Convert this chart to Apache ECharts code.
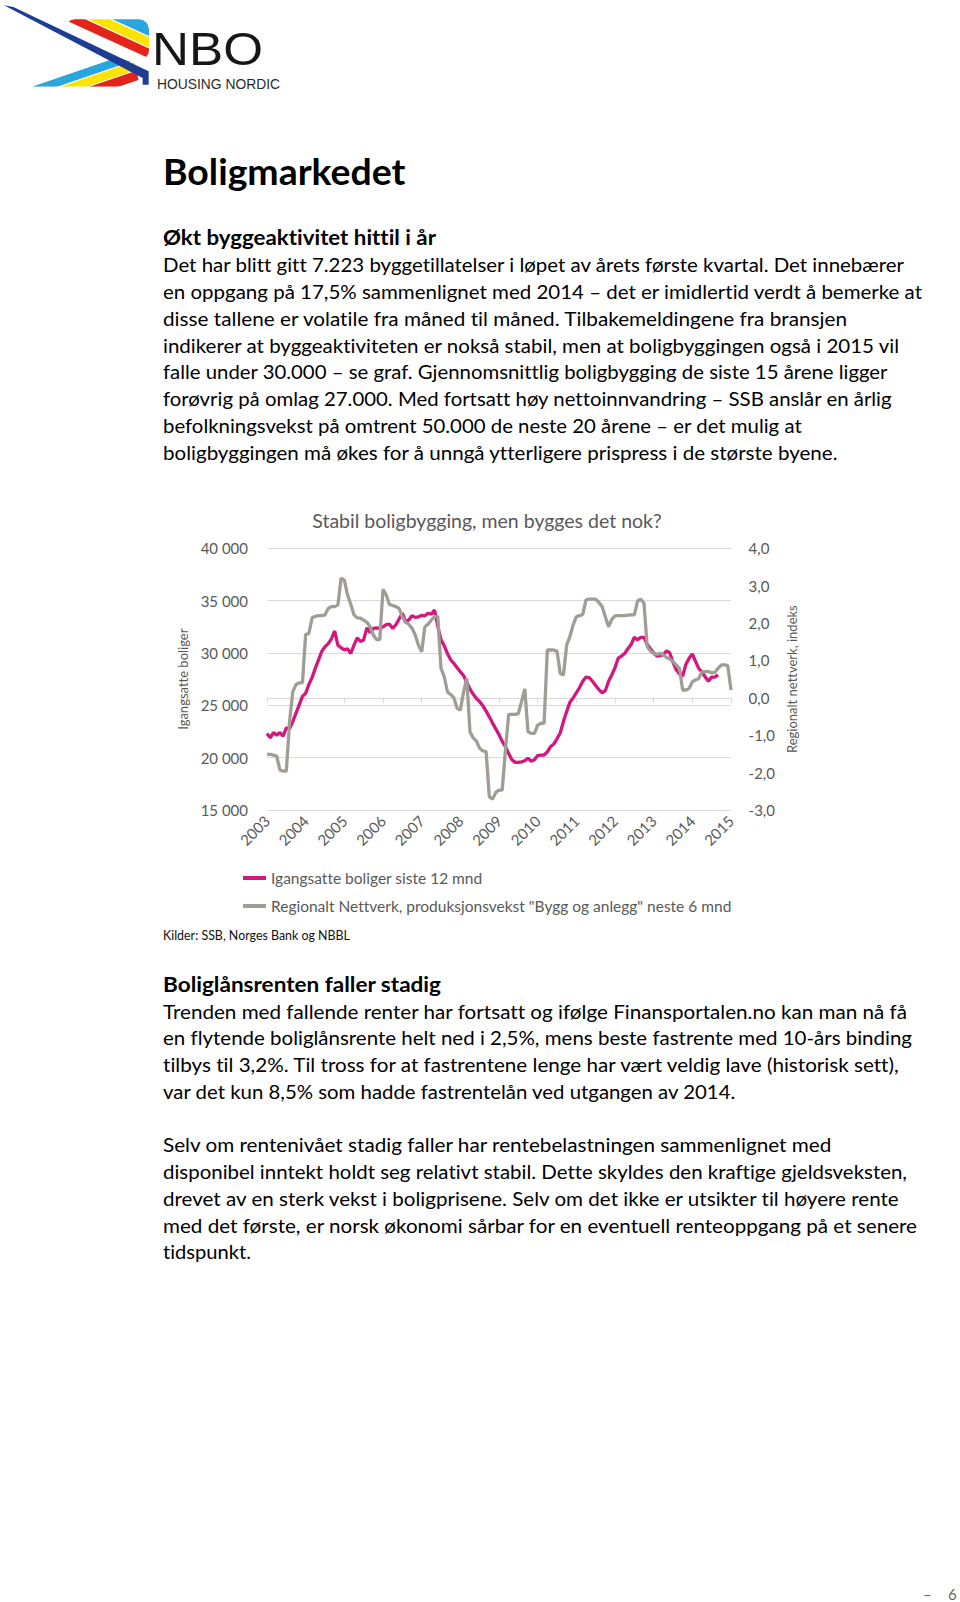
<!DOCTYPE html>
<html>
<head>
<meta charset="utf-8">
<script src="https://cdn.jsdelivr.net/npm/echarts@6/dist/echarts.min.js"></script>
<style>
  html, body { margin: 0; padding: 0; background: #fff; }
  #page { position: relative; width: 960px; height: 1602px; overflow: hidden; background: #fff; }
  #txt { position: absolute; left: 0; top: 0; }
  #chart { position: absolute; left: 160px; top: 490px; width: 654px; height: 440px; }
  text { font-family: Lato, "Open Sans", sans-serif; font-variant-ligatures: none; font-feature-settings: "liga" 0, "clig" 0, "dlig" 0; }
  #chart text { font-variant-ligatures: none; font-feature-settings: "liga" 0, "clig" 0; }
</style>
</head>
<body>
<div id="page">
<svg id="txt" width="960" height="1602" viewBox="0 0 960 1602" xmlns="http://www.w3.org/2000/svg">
  <defs>
    <clipPath id="cu"><rect x="195" y="58" width="252" height="122" rx="30"/></clipPath>
    <clipPath id="cl"><polygon points="95,260 350,172 405,190 420,260"/></clipPath>
  </defs>
  <!-- logo -->
  <g transform="scale(0.33333)">
    <g clip-path="url(#cu)">
      <line x1="-49.4" y1="-66.3" x2="700.6" y2="275.7" stroke="#e3241b" stroke-width="27"/>
      <line x1="-36.7" y1="-94" x2="713.3" y2="248" stroke="#fde300" stroke-width="27"/>
      <line x1="-21.8" y1="-126.8" x2="728.2" y2="215.2" stroke="#2aa6de" stroke-width="38"/>
    </g>
    <g clip-path="url(#cl)">
      <line x1="-126" y1="347.8" x2="564" y2="113.8" stroke="#2aa6de" stroke-width="25"/>
      <line x1="-117" y1="374.4" x2="573" y2="140.4" stroke="#fde300" stroke-width="25"/>
      <line x1="-107.5" y1="402.3" x2="582.5" y2="168.3" stroke="#e3241b" stroke-width="28"/>
    </g>
    <polygon points="12,16 40,21 446,214 446,254 428,254 428,234" fill="#1f3c94"/>
  </g>
  <text x="152" y="65" font-size="46" fill="#161616" textLength="111" lengthAdjust="spacingAndGlyphs" style="font-family:'Liberation Sans',Arial,sans-serif">NBO</text>
  <text x="157" y="89" font-size="15.5" fill="#2b2b2b" textLength="123" lengthAdjust="spacingAndGlyphs" style="font-family:'Liberation Sans',Arial,sans-serif">HOUSING NORDIC</text>

  <!-- heading & section 1 -->
  <text x="163" y="185" font-size="37" font-weight="700" fill="#000" textLength="242.5" lengthAdjust="spacingAndGlyphs">Boligmarkedet</text>
  <text x="163" y="245" font-size="21" font-weight="700" fill="#000" textLength="273" lengthAdjust="spacingAndGlyphs">Økt byggeaktivitet hittil i år</text>
  <g font-size="19.5" fill="#000">
    <text x="163" y="272.3" textLength="741" lengthAdjust="spacingAndGlyphs">Det har blitt gitt 7.223 byggetillatelser i løpet av årets første kvartal. Det innebærer</text>
    <text x="163" y="299" textLength="759" lengthAdjust="spacingAndGlyphs">en oppgang på 17,5% sammenlignet med 2014 – det er imidlertid verdt å bemerke at</text>
    <text x="163" y="325.8" textLength="684" lengthAdjust="spacingAndGlyphs">disse tallene er volatile fra måned til måned. Tilbakemeldingene fra bransjen</text>
    <text x="163" y="352.5" textLength="736" lengthAdjust="spacingAndGlyphs">indikerer at byggeaktiviteten er nokså stabil, men at boligbyggingen også i 2015 vil</text>
    <text x="163" y="379.3" textLength="724.5" lengthAdjust="spacingAndGlyphs">falle under 30.000 – se graf. Gjennomsnittlig boligbygging de siste 15 årene ligger</text>
    <text x="163" y="406" textLength="728.6" lengthAdjust="spacingAndGlyphs">forøvrig på omlag 27.000. Med fortsatt høy nettoinnvandring – SSB anslår en årlig</text>
    <text x="163" y="432.8" textLength="638.7" lengthAdjust="spacingAndGlyphs">befolkningsvekst på omtrent 50.000 de neste 20 årene – er det mulig at</text>
    <text x="163" y="459.5" textLength="674.5" lengthAdjust="spacingAndGlyphs">boligbyggingen må økes for å unngå ytterligere prispress i de største byene.</text>
  </g>

  <text x="163" y="939.5" font-size="12.5" fill="#111" textLength="187" lengthAdjust="spacingAndGlyphs">Kilder: SSB, Norges Bank og NBBL</text>

  <!-- section 2 -->
  <text x="163" y="991.5" font-size="21" font-weight="700" fill="#000" textLength="278" lengthAdjust="spacingAndGlyphs">Boliglånsrenten faller stadig</text>
  <g font-size="19.5" fill="#000">
    <text x="163" y="1018.5" textLength="744" lengthAdjust="spacingAndGlyphs">Trenden med fallende renter har fortsatt og ifølge Finansportalen.no kan man nå få</text>
    <text x="163" y="1045.25" textLength="749" lengthAdjust="spacingAndGlyphs">en flytende boliglånsrente helt ned i 2,5%, mens beste fastrente med 10-års binding</text>
    <text x="163" y="1072" textLength="735.7" lengthAdjust="spacingAndGlyphs">tilbys til 3,2%. Til tross for at fastrentene lenge har vært veldig lave (historisk sett),</text>
    <text x="163" y="1098.75" textLength="572.3" lengthAdjust="spacingAndGlyphs">var det kun 8,5% som hadde fastrentelån ved utgangen av 2014.</text>
    <text x="163" y="1152.25" textLength="668.3" lengthAdjust="spacingAndGlyphs">Selv om rentenivået stadig faller har rentebelastningen sammenlignet med</text>
    <text x="163" y="1179" textLength="744" lengthAdjust="spacingAndGlyphs">disponibel inntekt holdt seg relativt stabil. Dette skyldes den kraftige gjeldsveksten,</text>
    <text x="163" y="1205.75" textLength="735.7" lengthAdjust="spacingAndGlyphs">drevet av en sterk vekst i boligprisene. Selv om det ikke er utsikter til høyere rente</text>
    <text x="163" y="1232.5" textLength="754" lengthAdjust="spacingAndGlyphs">med det første, er norsk økonomi sårbar for en eventuell renteoppgang på et senere</text>
    <text x="163" y="1259.25" textLength="88" lengthAdjust="spacingAndGlyphs">tidspunkt.</text>
  </g>

  <!-- page number -->
  <text x="923" y="1600" font-size="15" fill="#666">–</text>
  <text x="948" y="1600" font-size="15" fill="#666">6</text>
</svg>
<div id="chart"></div>
</div>
<script>
// ---- data ----
const years = ['2003','2004','2005','2006','2007','2008','2009','2010','2011','2012','2013','2014','2015'];
const monthNames = ['01','02','03','04','05','06','07','08','09','10','11','12'];
const leftTickLabels = ['15 000','20 000','25 000','30 000','35 000','40 000'];
const rightTickLabels = ['-3,0','-2,0','-1,0','0,0','1,0','2,0','3,0','4,0'];
const seriesNames = ['Igangsatte boliger siste 12 mnd', 'Regionalt Nettverk, produksjonsvekst "Bygg og anlegg" neste 6 mnd'];

// Igangsatte boliger siste 12 mnd (monthly, Jan 2003 - Sep 2014)
const igangsatte = [
  22300,21900,22400,22150,22400,22050,22850,22750,23450,24250,
  25050,25850,26150,27000,27650,28550,29350,30150,30600,30900,
  31350,32100,30750,30500,30300,30400,29950,30750,31450,31100,
  31250,32400,31950,32350,32400,32350,32500,32700,32750,32350,
  32700,33250,33800,33000,33150,33550,33400,33450,33600,33550,
  33800,33700,34100,32550,31250,30700,29950,29350,29000,28600,
  28200,27850,27200,26550,26050,25650,25350,24950,24450,23900,
  23300,22750,22200,21550,21050,20400,19800,19550,19550,19600,
  19700,19950,19650,19800,20200,20250,20250,20550,21050,21300,
  21800,22350,23450,24400,25300,25700,26200,26700,27300,27700,
  27650,27300,26900,26500,26200,26400,27300,27900,28600,29500,
  29700,29950,30400,30800,31500,31250,31500,31500,30800,30400,
  30000,29700,29750,29850,30200,30000,29100,28400,28000,27800,
  28900,29500,29900,29200,28500,28200,27700,27300,27700,27700,
  27900
];

// Regionalt nettverk, indeks (monthly, Jan 2003 - Jan 2015)
const regionalt = [
  -1.51,-1.51,-1.53,-1.56,-1.93,-1.96,-1.96,-0.64,0.16,0.36,
  0.40,0.40,1.70,1.72,2.14,2.18,2.20,2.20,2.22,2.39,
  2.44,2.44,2.48,3.20,3.15,2.75,2.50,2.22,2.14,2.13,
  2.08,2.02,1.90,1.68,1.56,1.56,2.90,2.75,2.50,2.47,
  2.44,2.39,2.17,2.02,1.97,1.86,1.68,1.41,1.23,1.90,
  1.97,2.08,2.17,2.17,0.79,0.57,0.16,0.09,0.00,-0.28,
  -0.33,0.16,0.52,-0.91,-1.07,-1.16,-1.35,-1.42,-1.44,-2.65,
  -2.71,-2.53,-2.47,-2.47,-1.40,-0.44,-0.44,-0.44,-0.42,-0.10,
  0.24,-0.91,-0.95,-0.95,-0.73,-0.68,-0.68,1.28,1.28,1.28,
  1.25,0.65,0.61,1.41,1.64,1.95,2.17,2.20,2.23,2.62,
  2.64,2.64,2.64,2.55,2.44,2.17,1.90,2.10,2.19,2.20,
  2.20,2.20,2.21,2.22,2.22,2.59,2.64,2.53,1.37,1.25,
  1.19,1.16,1.19,1.15,1.08,1.04,0.97,0.88,0.79,0.21,
  0.21,0.25,0.43,0.48,0.52,0.70,0.70,0.70,0.67,0.68,
  0.79,0.88,0.88,0.86,0.21
];

// monthly categories
const categories = [];
years.forEach(function (y, i) {
  if (i < years.length - 1) monthNames.forEach(function (m) { categories.push(y + '-' + m); });
  else categories.push(y + '-01');
});

const FONT = 'Lato';
const GREY_TXT = '#595959';
const GRID = '#d9d9d9';
const isYearStart = function (idx) { return idx % 12 === 0; };

const chart = echarts.init(document.getElementById('chart'), null, { renderer: 'svg' });
chart.setOption({
  animation: false,
  textStyle: { fontFamily: FONT },
  title: {
    text: 'Stabil boligbygging, men bygges det nok?',
    left: 'center', top: 15,
    textStyle: { fontFamily: FONT, fontSize: 19.5, fontWeight: 'normal', color: GREY_TXT }
  },
  grid: { left: 107, right: 83, top: 58.3, height: 261.7, containLabel: false },
  legend: {
    orient: 'vertical', left: 78, top: 373,
    icon: 'rect', itemWidth: 23, itemHeight: 4, itemGap: 8,
    textStyle: { fontFamily: FONT, fontSize: 15.5, color: GREY_TXT, lineHeight: 20 },
    data: seriesNames
  },
  xAxis: {
    type: 'category', data: categories, boundaryGap: false,
    axisLine: { lineStyle: { color: GRID, width: 1 } },
    axisTick: { show: true, interval: isYearStart, length: 5, lineStyle: { color: GRID } },
    axisLabel: {
      interval: isYearStart, rotate: 45, margin: 8,
      fontFamily: FONT, fontSize: 15, color: GREY_TXT,
      formatter: function (v) { return v.slice(0, 4); }
    },
    splitLine: { show: false }
  },
  yAxis: [
    {
      type: 'value', min: 15000, max: 40000, interval: 5000, position: 'left',
      name: 'Igangsatte boliger', nameLocation: 'middle', nameGap: 74, nameRotate: 90,
      nameTextStyle: { fontFamily: FONT, fontSize: 13, color: GREY_TXT },
      axisLine: { show: false }, axisTick: { show: false },
      axisLabel: {
        margin: 19, fontFamily: FONT, fontSize: 15, color: GREY_TXT,
        formatter: function (v) { return leftTickLabels[Math.round((v - 15000) / 5000)]; }
      },
      splitLine: { lineStyle: { color: GRID, width: 1 } }
    },
    {
      type: 'value', min: -3, max: 4, interval: 1, position: 'right',
      name: 'Regionalt nettverk, indeks', nameLocation: 'middle', nameGap: 52, nameRotate: 90,
      nameTextStyle: { fontFamily: FONT, fontSize: 13, color: GREY_TXT },
      axisLine: { show: false }, axisTick: { show: false },
      axisLabel: {
        margin: 17.6, fontFamily: FONT, fontSize: 15, color: GREY_TXT,
        formatter: function (v) { return rightTickLabels[Math.round(v + 3)]; }
      },
      splitLine: { show: false }
    }
  ],
  series: [
    {
      name: seriesNames[0], type: 'line', yAxisIndex: 0, data: igangsatte,
      showSymbol: false, symbol: 'none', smooth: false,
      lineStyle: { color: '#d4177f', width: 3.3 }, itemStyle: { color: '#d4177f' }
    },
    {
      name: seriesNames[1], type: 'line', yAxisIndex: 1, data: regionalt,
      showSymbol: false, symbol: 'none', smooth: false,
      lineStyle: { color: '#a29d94', width: 3.3 }, itemStyle: { color: '#a29d94' }
    }
  ]
});
</script>
</body>
</html>
